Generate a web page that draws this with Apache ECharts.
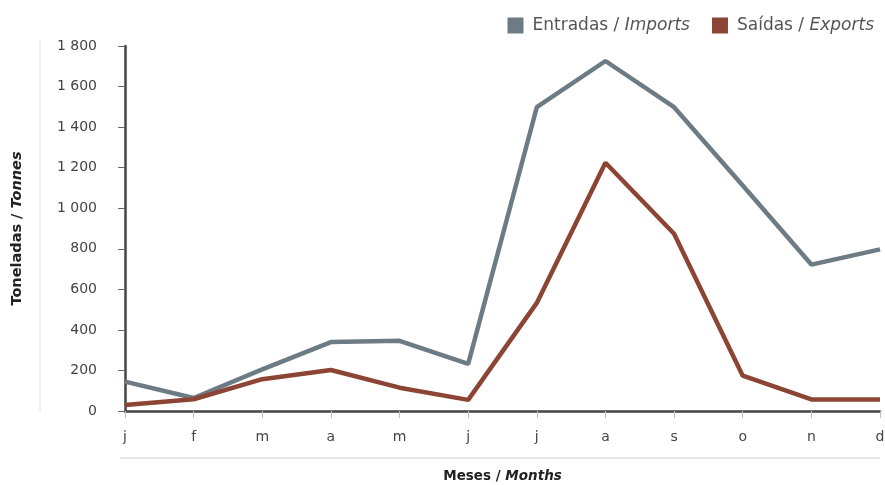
<!DOCTYPE html>
<html><head><meta charset="utf-8">
<script src="https://cdn.jsdelivr.net/npm/echarts@6/dist/echarts.min.js"></script>
<style>html,body{margin:0;padding:0;background:#fff}#c{width:885px;height:485px}</style>
</head><body><div id="c"></div>
<script>
const months = ['j','f','m','a','m','j','j','a','s','o','n','d'];
const imports = [145, 64, 205, 340, 346, 232, 1498, 1726, 1498, 1112, 722, 797];
const exports = [30, 58, 157, 202, 115, 55, 533, 1224, 874, 174, 57, 57];
const yTicks = [0, 200, 400, 600, 800, 1000, 1200, 1400, 1600, 1800];

const FONT = 'DejaVu Sans';
const chart = echarts.init(document.getElementById('c'));
function fmt(v){ return String(v).replace(/\B(?=(\d{3})+(?!\d))/g, ' '); }
chart.setOption({
  backgroundColor: '#fff',
  animation: false,
  textStyle: { fontFamily: FONT },
  legend: {
    right: 6, top: 12, itemWidth: 16, itemHeight: 16, itemGap: 22,
    icon: 'rect',
    data: ['imp', 'exp'],
    formatter: function(n){ return n === 'imp' ? '{a|Entradas / }{b|Imports}' : '{a|Saídas / }{b|Exports}'; },
    textStyle: {
      padding: [0, 0, 0, 4],
      rich: {
        a: { fontFamily: FONT, fontSize: 17, color: '#555' },
        b: { fontFamily: FONT, fontSize: 17, color: '#555', fontStyle: 'italic' }
      }
    }
  },
  grid: { left: 125, right: 5, top: 46, bottom: 74, outerBoundsMode: 'none', containLabel: false },
  xAxis: {
    type: 'category', data: months, boundaryGap: false,
    axisLine: { lineStyle: { color: '#444', width: 2.5 } },
    axisTick: { show: true, length: 7, lineStyle: { color: '#bbb', width: 1 } },
    axisLabel: { color: '#444', fontSize: 14, margin: 19, fontFamily: FONT },
    name: '{a|Meses / }{b|Months}', nameLocation: 'middle', nameGap: 58,
    nameTextStyle: { rich: {
      a: { fontFamily: FONT, fontSize: 13.5, fontWeight: 'bold', color: '#222' },
      b: { fontFamily: FONT, fontSize: 13.5, fontWeight: 'bold', fontStyle: 'italic', color: '#222' }
    } }
  },
  yAxis: {
    type: 'value', min: 0, max: 1800, interval: 200,
    axisLine: { show: true, lineStyle: { color: '#444', width: 2.5 } },
    axisTick: { show: true, length: 7, lineStyle: { color: '#666', width: 1 } },
    splitLine: { show: false },
    axisLabel: { color: '#444', fontSize: 14, margin: 28, fontFamily: FONT, formatter: function(v){ return yTicks.indexOf(v) >= 0 ? fmt(v) : ''; } },
    name: '{a|Toneladas / }{b|Tonnes}', nameLocation: 'middle', nameGap: 100, nameRotate: 90,
    nameTextStyle: { rich: {
      a: { fontFamily: FONT, fontSize: 14.5, fontWeight: 'bold', color: '#222' },
      b: { fontFamily: FONT, fontSize: 14.5, fontWeight: 'bold', fontStyle: 'italic', color: '#222' }
    } }
  },
  graphic: [
    { type: 'line', shape: { x1: 40, y1: 40, x2: 40, y2: 412 }, style: { stroke: '#e6e6e6', lineWidth: 1 } },
    { type: 'line', shape: { x1: 120, y1: 458, x2: 880, y2: 458 }, style: { stroke: '#e6e6e6', lineWidth: 2 } }
  ],
  series: [
    { name: 'imp', type: 'line', data: imports, symbol: 'none', lineStyle: { color: '#6c7b84', width: 4.5 }, itemStyle: { color: '#6c7b84' } },
    { name: 'exp', type: 'line', data: exports, symbol: 'none', lineStyle: { color: '#8c4534', width: 4.5 }, itemStyle: { color: '#8c4534' } }
  ]
});
</script></body></html>
